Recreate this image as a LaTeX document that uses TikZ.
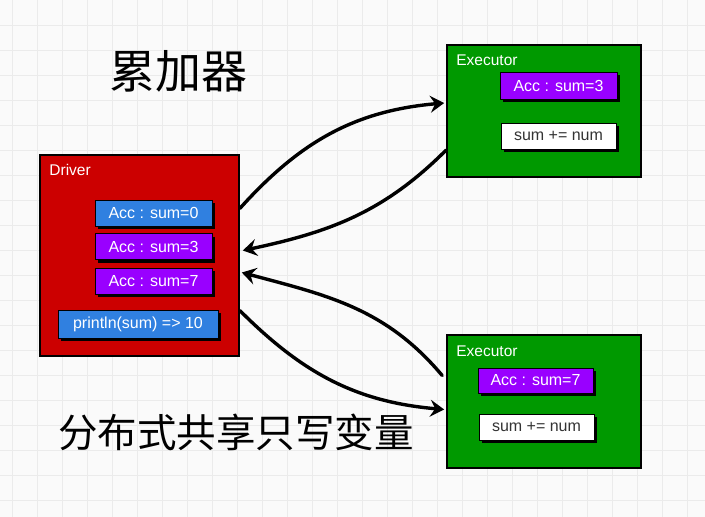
\documentclass[tikz,border=0pt]{standalone}
\usepackage{fontspec}
\setmainfont{Liberation Sans}
\newfontfamily\cjk{Noto Sans CJK SC}
\usetikzlibrary{arrows.meta, shadows}

\definecolor{drvred}{HTML}{CC0000}
\definecolor{exegreen}{HTML}{009900}
\definecolor{accblue}{HTML}{3080E0}
\definecolor{accpurple}{HTML}{9900FF}
\definecolor{gridgray}{HTML}{EBEBEB}
\definecolor{paper}{HTML}{FAFAFA}

\tikzset{
  gridline/.style = {draw=gridgray, line width=0.8pt},
  hostbox/.style = {draw=black, line width=1.6pt, fill=#1, inner sep=0pt,
    drop shadow={shadow xshift=1pt, shadow yshift=-1pt, fill=black, opacity=1}},
  hostlabel/.style = {anchor=base west, inner sep=0pt, text=white,
    font=\fontsize{15.5}{15.5}\selectfont},
  cellbox/.style = {draw=black, line width=0.8pt, inner sep=0pt, minimum height=26pt,
    font=\fontsize{16}{16}\selectfont,
    drop shadow={shadow xshift=3pt, shadow yshift=-3pt, fill=black, opacity=1}},
  accbox/.style = {cellbox, fill=#1, text=white},
  calcbox/.style = {cellbox, fill=white, text=black!80},
  flow/.style = {line width=3.4pt, line cap=round,
    -{Stealth[length=14pt, width=17pt, inset=5pt]}},
  title/.style = {inner sep=0pt, font=\cjk\fontsize{#1}{#1}\selectfont}
}

\begin{document}
\begin{tikzpicture}[x=1pt, y=-1pt]
\useasboundingbox (0, 0) rectangle (705, 517);
\fill[paper] (0, 0) rectangle (705, 517);
% background grid
\foreach \gx in {12, 37, ..., 687}
  \draw[gridline] (\gx, 0) -- (\gx, 517);
\foreach \gy in {25, 50, ..., 500}
  \draw[gridline] (0, \gy) -- (705, \gy);

% titles
\node[title=46] (acctitle) at (178, 71) {累加器};
\node[title=39.5] (sharetitle) at (236, 432) {分布式共享只写变量};

% driver
\node[hostbox=drvred, minimum width=199pt, minimum height=201pt] (driver) at (139.5, 255.5) {};
\node[hostlabel] (drvlabel) at ([xshift=10pt, yshift=-21pt]driver.north west) {Driver};
\node[accbox=accblue, minimum width=117pt] (acczero) at (153.5, 213) {Acc : sum=0};
\node[accbox=accpurple, minimum width=117pt] (accthree) at (153.5, 246.5) {Acc : sum=3};
\node[accbox=accpurple, minimum width=117pt] (accseven) at (153.5, 281) {Acc : sum=7};
\node[accbox=accblue, minimum width=160pt, minimum height=28pt] (result) at (138, 324) {println(sum) => 10};

% executors
\node[hostbox=exegreen, minimum width=194pt, minimum height=132pt] (execa) at (544, 111) {};
\node[hostlabel] (execalabel) at ([xshift=10pt, yshift=-21pt]execa.north west) {Executor};
\node[accbox=accpurple, minimum width=117pt, minimum height=27pt] (execaacc) at (558.5, 85.5) {Acc : sum=3};
\node[calcbox, minimum width=115pt] (execacalc) at (558.5, 136) {sum += num};

\node[hostbox=exegreen, minimum width=194pt, minimum height=133pt] (execb) at (544, 401.5) {};
\node[hostlabel] (execblabel) at ([xshift=10pt, yshift=-22pt]execb.north west) {Executor};
\node[accbox=accpurple, minimum width=115pt, minimum height=25pt] (execbacc) at (535.5, 380.5) {Acc : sum=7};
\node[calcbox, minimum width=115pt] (execbcalc) at (536.5, 427) {sum += num};

% flows
\draw[flow] ([yshift=47pt]driver.east) to[out=48, in=185] ([xshift=-2pt, yshift=8pt]execa.west);
\draw[flow] ([yshift=-39pt]execa.west) to[out=-135, in=12] ([xshift=3pt, yshift=5pt]driver.east);
\draw[flow] ([xshift=-4pt, yshift=26pt]execb.west) to[out=130, in=-15] ([xshift=2pt, yshift=-17pt]driver.east);
\draw[flow] ([yshift=-55pt]driver.east) to[out=-45, in=175] ([xshift=-2pt, yshift=-8pt]execb.west);
\end{tikzpicture}
\end{document}
